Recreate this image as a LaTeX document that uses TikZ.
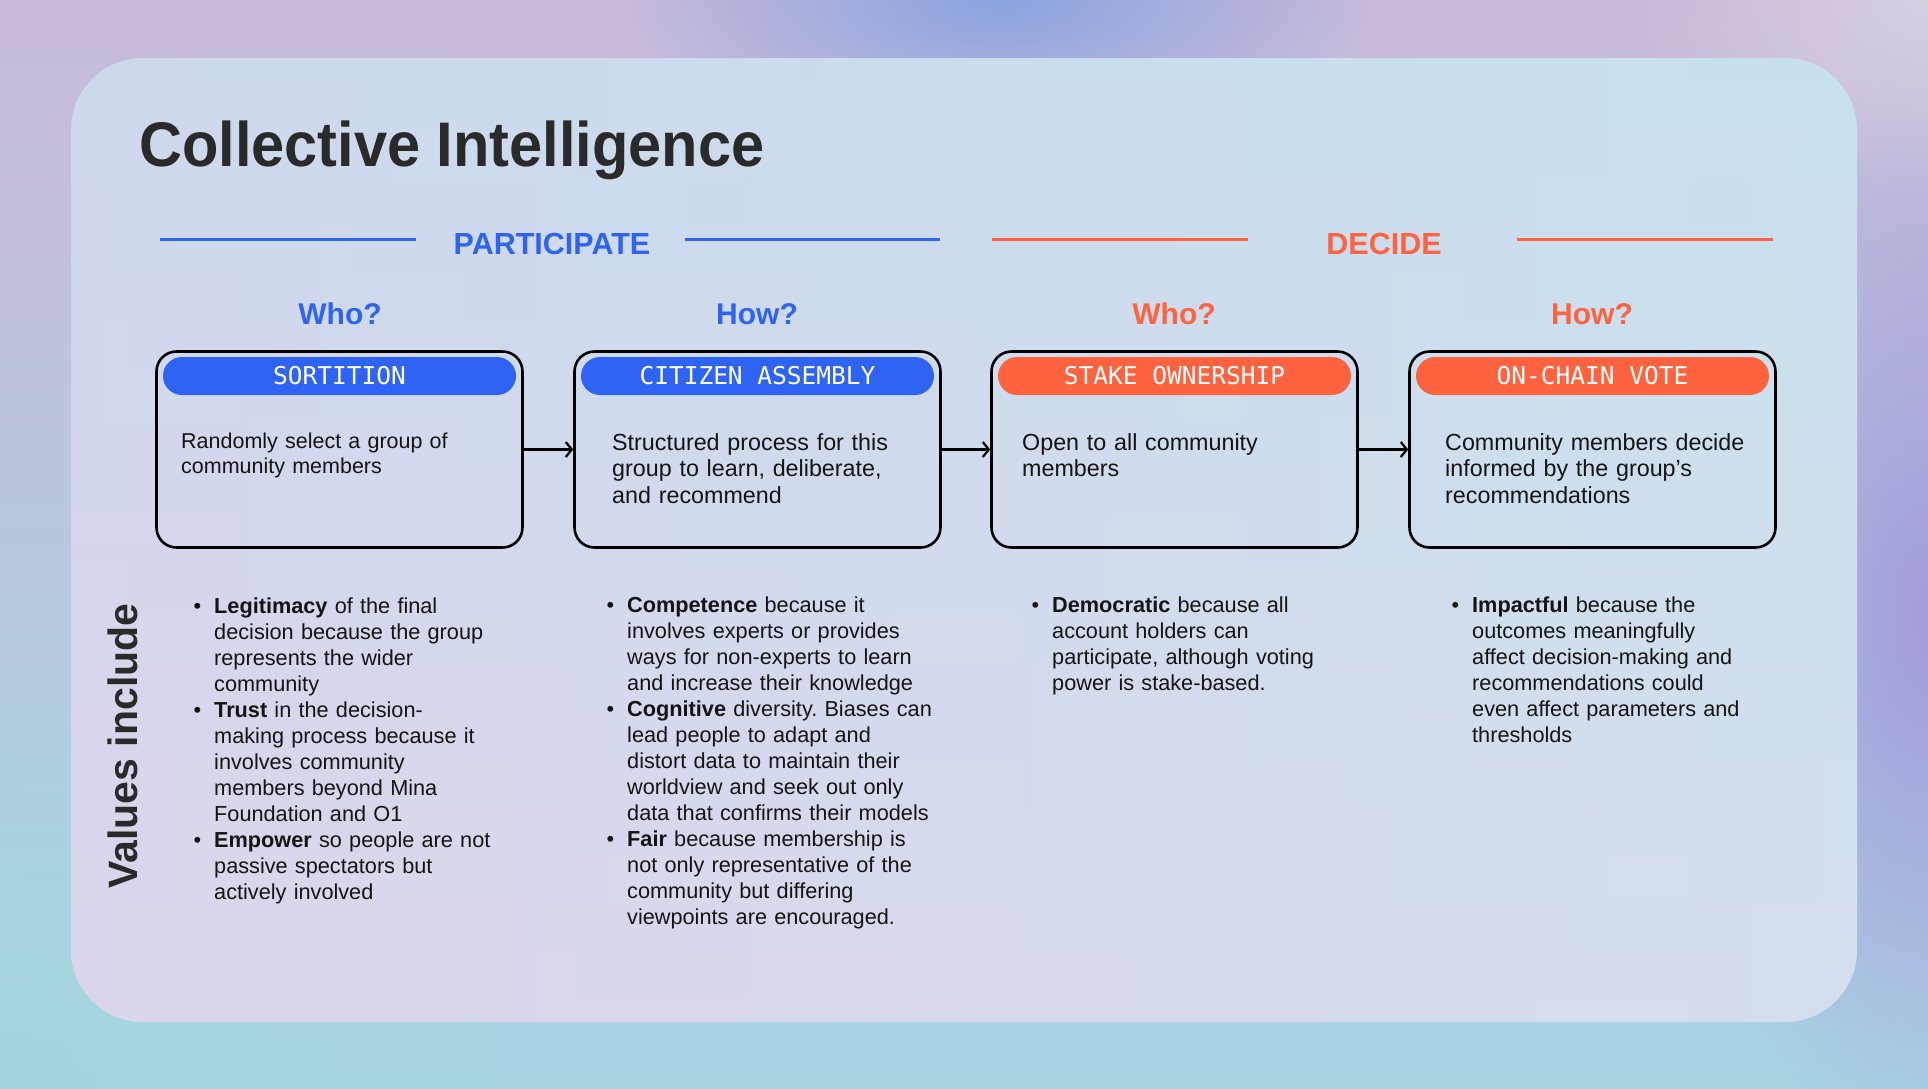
\documentclass[tikz,border=0pt]{standalone}
\usepackage{fontspec}
\setmainfont{Liberation Sans}
\newfontfamily\titlefont[FakeStretch=0.945]{Liberation Sans}
\newfontfamily\pillfont{DejaVu Sans Mono}
\usetikzlibrary{arrows.meta,fadings}
\frenchspacing
\definecolor{cblue}{HTML}{2F63F4}
\definecolor{corange}{HTML}{FF623E}
\definecolor{ink}{HTML}{141414}
\definecolor{titleink}{HTML}{2A2A2A}
\definecolor{bgtop}{HTML}{C9BADA}
\definecolor{bgmid}{HTML}{C3BFDA}
\definecolor{bgbot}{HTML}{A9D5E3}
\definecolor{bgblue}{HTML}{8AA4E0}
\definecolor{bgtr}{HTML}{D8CFE1}
\definecolor{bgright}{HTML}{A29DDB}
\definecolor{bgbl}{HTML}{A4D6DF}
\definecolor{pntop}{HTML}{CCE0EE}
\definecolor{pnmid}{HTML}{CECCEA}
\definecolor{pnbot}{HTML}{E0DCED}
\definecolor{pnleft}{HTML}{D2CAEC}
\definecolor{pnright}{HTML}{C2E3EE}
\tikzfading[name=blob, inner color=transparent!0, outer color=transparent!100]
\tikzset{
  card/.style={draw=black, line width=2.6pt, rounded corners=20pt,
    minimum width=366pt, minimum height=196pt, inner sep=0pt},
  pill/.style={rounded corners=19pt, minimum width=353pt, minimum height=38pt,
    inner sep=0pt, text=white, font=\pillfont\fontsize{24.5}{28}\selectfont},
  bluepill/.style={pill, fill=cblue},
  orangepill/.style={pill, fill=corange},
  phase/.style={font=\bfseries\fontsize{30.5}{34}\selectfont, inner sep=0pt, anchor=base},
  question/.style={font=\bfseries\fontsize{30}{34}\selectfont, inner sep=0pt, anchor=base},
  boxtxt/.style={anchor=base west, inner sep=0pt, align=left, text width=360pt,
    text=ink},
  valtxt/.style={anchor=base west, inner sep=0pt, align=left, text width=400pt,
    text=ink, font=\fontsize{21.7}{26}\selectfont},
  rule/.style={line width=3pt},
  flow/.style={line width=2.2pt, -{Straight Barb[length=6pt,width=15pt,line width=2.2pt]}},
}
\newcommand{\bul}{\leavevmode\llap{\textbullet\hspace{13pt}}}
\begin{document}
\begin{tikzpicture}[x=1pt,y=-1pt]
\useasboundingbox (0,0) rectangle (1928,1088);
% outer background: smooth gradient with soft colour blobs
\shade[top color=bgtop, middle color=bgmid, bottom color=bgbot] (0,0) rectangle (1928,1088);
\fill[bgright, path fading=blob] (1928,620) ellipse [x radius=260, y radius=560];
\fill[bgblue, path fading=blob] (1000,0) ellipse [x radius=380, y radius=150];
\fill[bgtr, path fading=blob] (1928,0) ellipse [x radius=300, y radius=200];
\fill[bgbl, path fading=blob] (0,1088) ellipse [x radius=500, y radius=420];
\fill[bgbot, path fading=blob] (1100,1088) ellipse [x radius=900, y radius=150];
% panel
\shade[rounded corners=72pt, top color=pntop, middle color=pnmid, bottom color=pnbot]
  (71,58) rectangle (1857,1022);
\shade[rounded corners=72pt, left color=pnleft, right color=pnright, opacity=0.35]
  (71,58) rectangle (1857,1022);

% title
\node[anchor=base west, inner sep=0pt, text=titleink,
  font=\titlefont\bfseries\fontsize{63}{70}\selectfont] (title) at (139,166) {Collective Intelligence};

% phase headers
\node[phase, text=cblue] (participate) at (552,254) {PARTICIPATE};
\node[phase, text=corange] (decide) at (1384,254) {DECIDE};
\coordinate (pa1) at (160,239); \coordinate (pa2) at (416,239);
\coordinate (pa3) at (685,239); \coordinate (pa4) at (940,239);
\coordinate (de1) at (992,239); \coordinate (de2) at (1248,239);
\coordinate (de3) at (1517,239); \coordinate (de4) at (1773,239);
\draw[rule, cblue] (pa1) -- (pa2);
\draw[rule, cblue] (pa3) -- (pa4);
\draw[rule, corange] (de1) -- (de2);
\draw[rule, corange] (de3) -- (de4);

% questions
\node[question, text=cblue] (q1) at (340,324) {Who?};
\node[question, text=cblue] (q2) at (757,324) {How?};
\node[question, text=corange] (q3) at (1174,324) {Who?};
\node[question, text=corange] (q4) at (1592,324) {How?};

% cards
\node[card] (b1) at (339.5,449.5) {};
\node[card] (b2) at (757.5,449.5) {};
\node[card] (b3) at (1174.5,449.5) {};
\node[card] (b4) at (1592.5,449.5) {};

\node[bluepill] (p1) at (339.5,376) {SORTITION};
\node[bluepill] (p2) at (757.5,376) {CITIZEN ASSEMBLY};
\node[orangepill] (p3) at (1174.5,376) {STAKE OWNERSHIP};
\node[orangepill] (p4) at (1592.5,376) {ON-CHAIN VOTE};

\node[boxtxt, font=\fontsize{21.5}{25}\selectfont] (t1) at (181,448)
  {Randomly select a group of\\community members};
\node[boxtxt, font=\fontsize{23.3}{26.5}\selectfont] (t2) at (612,450)
  {Structured process for this\\group to learn, deliberate,\\and recommend};
\node[boxtxt, font=\fontsize{23.3}{26.5}\selectfont] (t3) at (1022,450)
  {Open to all community\\members};
\node[boxtxt, font=\fontsize{23.3}{26.5}\selectfont] (t4) at (1445,450)
  {Community members decide\\informed by the group's\\recommendations};

% arrows
\draw[flow] (b1) -- (b2);
\draw[flow] (b2) -- (b3);
\draw[flow] (b3) -- (b4);

% values
\node[rotate=90, anchor=base, inner sep=0pt, text=titleink,
  font=\bfseries\fontsize{41}{46}\selectfont] (values) at (137,746) {Values include};

\node[valtxt] (v1) at (214,613)
  {\bul\textbf{Legitimacy} of the final\\
   decision because the group\\
   represents the wider\\
   community\\
   \bul\textbf{Trust} in the decision-\\
   making process because it\\
   involves community\\
   members beyond Mina\\
   Foundation and O1\\
   \bul\textbf{Empower} so people are not\\
   passive spectators but\\
   actively involved};
\node[valtxt] (v2) at (627,612)
  {\bul\textbf{Competence} because it\\
   involves experts or provides\\
   ways for non-experts to learn\\
   and increase their knowledge\\
   \bul\textbf{Cognitive} diversity. Biases can\\
   lead people to adapt and\\
   distort data to maintain their\\
   worldview and seek out only\\
   data that confirms their models\\
   \bul\textbf{Fair} because membership is\\
   not only representative of the\\
   community but differing\\
   viewpoints are encouraged.};
\node[valtxt] (v3) at (1052,612)
  {\bul\textbf{Democratic} because all\\
   account holders can\\
   participate, although voting\\
   power is stake-based.};
\node[valtxt] (v4) at (1472,612)
  {\bul\textbf{Impactful} because the\\
   outcomes meaningfully\\
   affect decision-making and\\
   recommendations could\\
   even affect parameters and\\
   thresholds};
\end{tikzpicture}
\end{document}
